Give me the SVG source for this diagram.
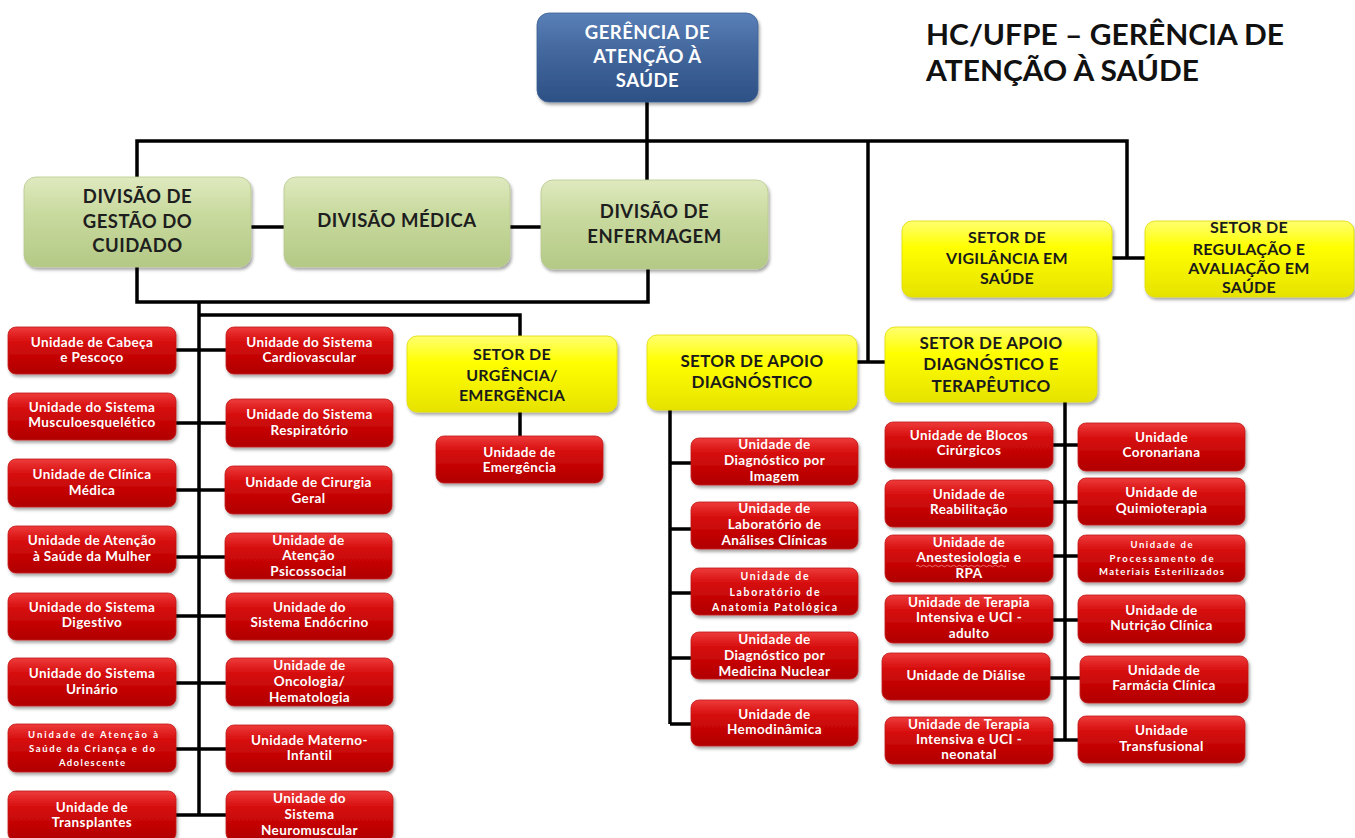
<svg xmlns="http://www.w3.org/2000/svg" width="1355" height="838" viewBox="0 0 1355 838">
<defs>
<linearGradient id="gRed" x1="0" y1="0" x2="0" y2="1">
<stop offset="0" stop-color="#ee3b3b"/><stop offset="0.35" stop-color="#d50a0a"/><stop offset="1" stop-color="#b00000"/>
</linearGradient>
<linearGradient id="gYel" x1="0" y1="0" x2="0" y2="1">
<stop offset="0" stop-color="#ffff70"/><stop offset="0.35" stop-color="#ffff00"/><stop offset="1" stop-color="#e6e200"/>
</linearGradient>
<linearGradient id="gGrn" x1="0" y1="0" x2="0" y2="1">
<stop offset="0" stop-color="#dfeabf"/><stop offset="0.4" stop-color="#c9da9f"/><stop offset="1" stop-color="#b3c985"/>
</linearGradient>
<linearGradient id="gBlu" x1="0" y1="0" x2="0" y2="1">
<stop offset="0" stop-color="#5a80b8"/><stop offset="0.4" stop-color="#44699f"/><stop offset="1" stop-color="#2d5085"/>
</linearGradient>
<filter id="sh" x="-10%" y="-15%" width="125%" height="145%">
<feDropShadow dx="1.5" dy="2.5" stdDeviation="1.8" flood-color="#000" flood-opacity="0.35"/>
</filter>
<style>
.red{fill:url(#gRed);stroke:#c21a1a;stroke-width:0.8;filter:url(#sh)}
.yel{fill:url(#gYel);stroke:#e0dc00;stroke-width:0.8;filter:url(#sh)}
.grn{fill:url(#gGrn);stroke:#b7c98f;stroke-width:0.8;filter:url(#sh)}
.blu{fill:url(#gBlu);stroke:#3a5f93;stroke-width:0.8;filter:url(#sh)}
text{font-family:Lato,"Liberation Sans",sans-serif;font-weight:700;text-anchor:middle}
.ut{font-size:13.5px;letter-spacing:0.4px;fill:#fff}
.us{font-size:9.5px;fill:#fff}
.gt{font-size:18.5px;letter-spacing:0.5px;fill:#1e1e1e}
.bt{font-size:18.5px;letter-spacing:0.5px;fill:#fff}
.yt{font-size:16px;letter-spacing:0.3px;fill:#1a1a1a}
.yb{font-size:17px;letter-spacing:0.3px;fill:#1a1a1a}
.ttl{font-size:28px;fill:#111;text-anchor:start}
.con{fill:none;stroke:#000;stroke-width:3.5;stroke-linejoin:miter}
</style>
</defs>
<rect width="1355" height="838" fill="#fff"/>

<g id="title">
<text class="ttl" x="926" y="45" textLength="358" lengthAdjust="spacingAndGlyphs">HC/UFPE – GERÊNCIA DE</text>
<text class="ttl" x="926" y="81" textLength="273" lengthAdjust="spacingAndGlyphs">ATENÇÃO À SAÚDE</text>
</g>

<g id="connectors" class="con">
<path d="M647,102 V180"/>
<path d="M137,177 V141 H1127 V258"/>
<path d="M1112,258 H1145"/>
<path d="M868,141 V362"/>
<path d="M857,362 H885"/>
<path d="M251,227 H284"/>
<path d="M510,227 H541"/>
<path d="M137,267 V302 H648 V269"/>
<path d="M199,302 V815"/>
<path d="M199,315 H520 V336"/>
<path d="M520,412 V436"/>
<path d="M176,350 H226 M176,423 H226 M176,490 H226 M176,557 H226 M176,616 H226 M176,683 H226 M176,749 H226 M176,815 H226"/>
<path d="M670,410 V724 M670,463 H691 M670,529 H691 M670,593 H691 M670,658 H691 M670,724 H691"/>
<path d="M1065,402 V740 M1053,445 H1078 M1053,502 H1078 M1053,556 H1078 M1053,620 H1078 M1050,678 H1080 M1053,740 H1078"/>
</g>

<g id="gerencia">
<rect class="blu" x="537" y="13" width="221" height="89" rx="12"/>
<text class="bt" x="647.5" y="39">GERÊNCIA DE</text>
<text class="bt" x="647.5" y="63">ATENÇÃO À</text>
<text class="bt" x="647.5" y="87">SAÚDE</text>
</g>

<g id="div-gestao">
<rect class="grn" x="24" y="177" width="227" height="90" rx="12"/>
<text class="gt" x="137.5" y="203">DIVISÃO DE</text>
<text class="gt" x="137.5" y="228">GESTÃO DO</text>
<text class="gt" x="137.5" y="252">CUIDADO</text>
</g>
<g id="div-medica">
<rect class="grn" x="284" y="177" width="226" height="90" rx="12"/>
<text class="gt" x="397" y="227">DIVISÃO MÉDICA</text>
</g>
<g id="div-enfermagem">
<rect class="grn" x="541" y="180" width="227" height="89" rx="12"/>
<text class="gt" x="654.5" y="218">DIVISÃO DE</text>
<text class="gt" x="654.5" y="243">ENFERMAGEM</text>
</g>

<g id="setor-vigilancia">
<rect class="yel" x="902" y="221" width="210" height="76" rx="10"/>
<text class="yt" x="1007" y="243">SETOR DE</text>
<text class="yt" x="1007" y="264">VIGILÂNCIA EM</text>
<text class="yt" x="1007" y="284">SAÚDE</text>
</g>
<g id="setor-regulacao">
<rect class="yel" x="1145" y="221" width="209" height="76" rx="10"/>
<text class="yt" x="1249" y="233">SETOR DE</text>
<text class="yt" x="1249" y="255">REGULAÇÃO E</text>
<text class="yt" x="1249" y="274">AVALIAÇÃO EM</text>
<text class="yt" x="1249" y="293">SAÚDE</text>
</g>
<g id="setor-urgencia">
<rect class="yel" x="407" y="336" width="210" height="76" rx="10"/>
<text class="yt" x="512" y="360">SETOR DE</text>
<text class="yt" x="512" y="381">URGÊNCIA/</text>
<text class="yt" x="512" y="401">EMERGÊNCIA</text>
</g>
<g id="setor-apoio-diag">
<rect class="yel" x="647" y="335" width="210" height="75" rx="10"/>
<text class="yb" x="752" y="367">SETOR DE APOIO</text>
<text class="yb" x="752" y="388">DIAGNÓSTICO</text>
</g>
<g id="setor-apoio-diag-terap">
<rect class="yel" x="885" y="327" width="212" height="75" rx="10"/>
<text class="yb" x="991" y="349">SETOR DE APOIO</text>
<text class="yb" x="991" y="370">DIAGNÓSTICO E</text>
<text class="yb" x="991" y="392">TERAPÊUTICO</text>
</g>

<g id="u-cabeca"><rect class="red" x="8" y="327" width="168" height="47" rx="8"/>
<text class="ut" x="92" y="347">Unidade de Cabeça</text><text class="ut" x="92" y="362">e Pescoço</text></g>
<g id="u-musculo"><rect class="red" x="8" y="393" width="168" height="47" rx="8"/>
<text class="ut" x="92" y="412">Unidade do Sistema</text><text class="ut" x="92" y="427">Musculoesquelético</text></g>
<g id="u-clinica"><rect class="red" x="8" y="459" width="168" height="48" rx="8"/>
<text class="ut" x="92" y="479">Unidade de Clínica</text><text class="ut" x="92" y="495">Médica</text></g>
<g id="u-mulher"><rect class="red" x="8" y="526" width="168" height="47" rx="8"/>
<text class="ut" x="92" y="545">Unidade de Atenção</text><text class="ut" x="92" y="561">à Saúde da Mulher</text></g>
<g id="u-digestivo"><rect class="red" x="8" y="593" width="168" height="47" rx="8"/>
<text class="ut" x="92" y="612">Unidade do Sistema</text><text class="ut" x="92" y="627">Digestivo</text></g>
<g id="u-urinario"><rect class="red" x="8" y="658" width="168" height="48" rx="8"/>
<text class="ut" x="92" y="678">Unidade do Sistema</text><text class="ut" x="92" y="694">Urinário</text></g>
<g id="u-crianca"><rect class="red" x="8" y="724" width="168" height="48" rx="8"/>
<text class="us" x="93" y="738" textLength="130" lengthAdjust="spacing">Unidade de Atenção à</text>
<text class="us" x="92" y="752" textLength="126" lengthAdjust="spacing">Saúde da Criança e do</text>
<text class="us" x="92" y="766" textLength="66" lengthAdjust="spacing">Adolescente</text></g>
<g id="u-transplantes"><rect class="red" x="8" y="791" width="168" height="50" rx="8"/>
<text class="ut" x="92" y="812">Unidade de</text><text class="ut" x="92" y="827">Transplantes</text></g>

<g id="u-cardio"><rect class="red" x="226" y="327" width="167" height="47" rx="8"/>
<text class="ut" x="309.5" y="347">Unidade do Sistema</text><text class="ut" x="309.5" y="362">Cardiovascular</text></g>
<g id="u-respiratorio"><rect class="red" x="226" y="399" width="167" height="48" rx="8"/>
<text class="ut" x="309.5" y="419">Unidade do Sistema</text><text class="ut" x="309.5" y="435">Respiratório</text></g>
<g id="u-cirurgia"><rect class="red" x="225" y="466" width="167" height="48" rx="8"/>
<text class="ut" x="308.5" y="487">Unidade de Cirurgia</text><text class="ut" x="308.5" y="503">Geral</text></g>
<g id="u-psicossocial"><rect class="red" x="225" y="533" width="167" height="46" rx="8"/>
<text class="ut" x="308.5" y="545">Unidade de</text><text class="ut" x="308.5" y="560">Atenção</text><text class="ut" x="308.5" y="576">Psicossocial</text></g>
<g id="u-endocrino"><rect class="red" x="226" y="593" width="167" height="47" rx="8"/>
<text class="ut" x="309.5" y="612">Unidade do</text><text class="ut" x="309.5" y="627">Sistema Endócrino</text></g>
<g id="u-oncologia"><rect class="red" x="226" y="658" width="167" height="48" rx="8"/>
<text class="ut" x="309.5" y="670">Unidade de</text><text class="ut" x="309.5" y="686">Oncologia/</text><text class="ut" x="309.5" y="702">Hematologia</text></g>
<g id="u-materno"><rect class="red" x="226" y="725" width="167" height="47" rx="8"/>
<text class="ut" x="309.5" y="745">Unidade Materno-</text><text class="ut" x="309.5" y="760">Infantil</text></g>
<g id="u-neuro"><rect class="red" x="226" y="791" width="167" height="50" rx="8"/>
<text class="ut" x="309.5" y="803">Unidade do</text><text class="ut" x="309.5" y="819">Sistema</text><text class="ut" x="309.5" y="835">Neuromuscular</text></g>

<g id="u-emergencia"><rect class="red" x="436" y="436" width="167" height="47" rx="8"/>
<text class="ut" x="519.5" y="457">Unidade de</text><text class="ut" x="519.5" y="472">Emergência</text></g>

<g id="u-imagem"><rect class="red" x="691" y="438" width="167" height="47" rx="8"/>
<text class="ut" x="774.5" y="449">Unidade de</text><text class="ut" x="774.5" y="465">Diagnóstico por</text><text class="ut" x="774.5" y="481">Imagem</text></g>
<g id="u-analises"><rect class="red" x="691" y="502" width="167" height="47" rx="8"/>
<text class="ut" x="774.5" y="513">Unidade de</text><text class="ut" x="774.5" y="529">Laboratório de</text><text class="ut" x="774.5" y="545">Análises Clínicas</text></g>
<g id="u-anatomia"><rect class="red" x="691" y="568" width="167" height="47" rx="8"/>
<text class="us" x="774.5" y="580" style="font-size:10.5px" textLength="68" lengthAdjust="spacing">Unidade de</text>
<text class="us" x="774.5" y="596" style="font-size:10.5px" textLength="90" lengthAdjust="spacing">Laboratório de</text>
<text class="us" x="774.5" y="611" style="font-size:10.5px" textLength="125" lengthAdjust="spacing">Anatomia Patológica</text></g>
<g id="u-nuclear"><rect class="red" x="691" y="632" width="167" height="47" rx="8"/>
<text class="ut" x="774.5" y="644">Unidade de</text><text class="ut" x="774.5" y="660">Diagnóstico por</text><text class="ut" x="774.5" y="676">Medicina Nuclear</text></g>
<g id="u-hemodinamica"><rect class="red" x="691" y="700" width="167" height="46" rx="8"/>
<text class="ut" x="774.5" y="719">Unidade de</text><text class="ut" x="774.5" y="734">Hemodinâmica</text></g>

<g id="u-blocos"><rect class="red" x="885" y="422" width="168" height="46" rx="8"/>
<text class="ut" x="969" y="440">Unidade de Blocos</text><text class="ut" x="969" y="455">Cirúrgicos</text></g>
<g id="u-reabilitacao"><rect class="red" x="885" y="480" width="168" height="47" rx="8"/>
<text class="ut" x="969" y="499">Unidade de</text><text class="ut" x="969" y="514">Reabilitação</text></g>
<g id="u-anestesiologia"><rect class="red" x="885" y="535" width="168" height="47" rx="8"/>
<text class="ut" x="969" y="547">Unidade de</text><text class="ut" x="969" y="562">Anestesiologia e</text><text class="ut" x="969" y="578">RPA</text>
<path d="M916,566 q1.5,-1.5 3,0 t3,0 t3,0 t3,0 t3,0 t3,0 t3,0 t3,0 t3,0 t3,0 t3,0 t3,0 t3,0 t3,0 t3,0 t3,0 t3,0 t3,0 t3,0 t3,0 t3,0 t3,0 t3,0 t3,0 t3,0 t3,0 t3,0 t3,0 t3,0 t3,0" fill="none" stroke="#f07a7a" stroke-width="0.9"/></g>
<g id="u-uti-adulto"><rect class="red" x="885" y="595" width="168" height="48" rx="8"/>
<text class="ut" x="969" y="607">Unidade de Terapia</text><text class="ut" x="969" y="622">Intensiva e UCI -</text><text class="ut" x="969" y="638">adulto</text></g>
<g id="u-dialise"><rect class="red" x="882" y="653" width="168" height="47" rx="8"/>
<text class="ut" x="966" y="680">Unidade de Diálise</text></g>
<g id="u-uti-neonatal"><rect class="red" x="885" y="717" width="168" height="47" rx="8"/>
<text class="ut" x="969" y="729">Unidade de Terapia</text><text class="ut" x="969" y="744">Intensiva e UCI -</text><text class="ut" x="969" y="759">neonatal</text></g>

<g id="u-coronariana"><rect class="red" x="1078" y="423" width="167" height="48" rx="8"/>
<text class="ut" x="1161.5" y="442">Unidade</text><text class="ut" x="1161.5" y="457">Coronariana</text></g>
<g id="u-quimioterapia"><rect class="red" x="1078" y="478" width="167" height="47" rx="8"/>
<text class="ut" x="1161.5" y="497">Unidade de</text><text class="ut" x="1161.5" y="513">Quimioterapia</text></g>
<g id="u-processamento"><rect class="red" x="1078" y="535" width="167" height="47" rx="8"/>
<text class="us" x="1161.5" y="548" textLength="62" lengthAdjust="spacing">Unidade de</text>
<text class="us" x="1161.5" y="562" textLength="104" lengthAdjust="spacing">Processamento de</text>
<text class="us" x="1161.5" y="575" textLength="125" lengthAdjust="spacing">Materiais Esterilizados</text></g>
<g id="u-nutricao"><rect class="red" x="1078" y="595" width="167" height="48" rx="8"/>
<text class="ut" x="1161.5" y="615">Unidade de</text><text class="ut" x="1161.5" y="630">Nutrição Clínica</text></g>
<g id="u-farmacia"><rect class="red" x="1080" y="656" width="168" height="47" rx="8"/>
<text class="ut" x="1164" y="675">Unidade de</text><text class="ut" x="1164" y="690">Farmácia Clínica</text></g>
<g id="u-transfusional"><rect class="red" x="1078" y="716" width="167" height="47" rx="8"/>
<text class="ut" x="1161.5" y="735">Unidade</text><text class="ut" x="1161.5" y="751">Transfusional</text></g>
</svg>
